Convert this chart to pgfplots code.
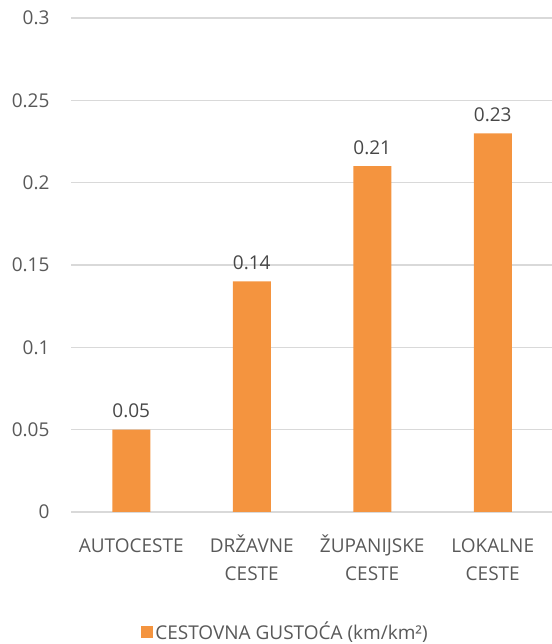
\documentclass[border=0pt]{standalone}
\usepackage{fontspec}
\setmainfont{Open Sans}
\usepackage{pgfplots}
\pgfplotsset{compat=1.18}
\definecolor{barorange}{HTML}{F4943F}
\definecolor{gridgray}{HTML}{D9D9D9}
\definecolor{txtgray}{HTML}{595959}
\newcommand{\zs}{\vphantom{Ž}}
\begin{document}
\fontsize{19}{28}\selectfont
\begin{tikzpicture}
\useasboundingbox (0,0) rectangle (551pt,644pt);
\begin{axis}[
  at={(71pt,132pt)}, anchor=south west,
  scale only axis,
  width=482pt, height=494pt,
  xmin=-0.5, xmax=3.5,
  ymin=0, ymax=0.3,
  ytick={0,0.05,0.1,0.15,0.2,0.25,0.3},
  yticklabels={0,0.05,0.1,0.15,0.2,0.25,0.3},
  xtick={0,1,2,3},
  xticklabels={\zs AUTOCESTE,{\zs DRŽAVNE\\CESTE},{\zs ŽUPANIJSKE\\CESTE},{\zs LOKALNE\\CESTE}},
  xticklabel style={align=center, text=txtgray, yshift=-16pt, font=\fontsize{19}{28}\selectfont},
  yticklabel style={text=txtgray, xshift=-15pt},
  axis line style={draw=none},
  major tick length=0pt,
  ymajorgrids,
  grid style={gridgray, line width=1.2pt},
  ybar, bar width=38pt,
  nodes near coords,
  nodes near coords style={text=txtgray!80!black, /pgf/number format/fixed, /pgf/number format/fixed zerofill, /pgf/number format/precision=2, /pgf/number format/assume math mode=true, yshift=5pt},
  /pgf/number format/assume math mode=true,
  legend style={at={(0.445,-0.243)}, anchor=center, draw=none, text=txtgray, inner sep=0pt},
  legend image code/.code={\fill[#1] (0pt,-6pt) rectangle (12pt,6pt);},
]
\addplot[fill=barorange, draw=none] coordinates {(0,0.05) (1,0.14) (2,0.21) (3,0.23)};
\legend{CESTOVNA GUSTOĆA (km/km²)}
\end{axis}
\end{tikzpicture}
\end{document}
